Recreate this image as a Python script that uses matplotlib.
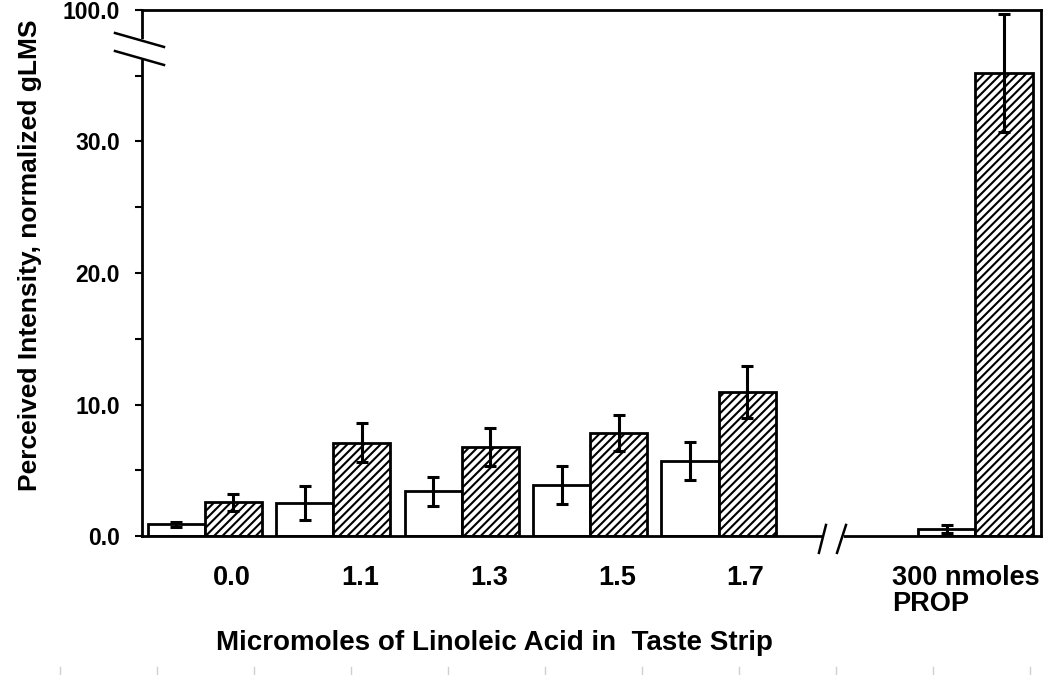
"""
Bar chart: perceived intensity of linoleic acid taste strips (normalized gLMS),
two groups per concentration, with broken y and x axes.
"""

import matplotlib.pyplot as plt
import numpy as np
from matplotlib.ticker import FixedLocator

plt.rcParams["font.family"] = ["Liberation Sans", "DejaVu Sans"]
plt.rcParams["font.weight"] = "bold"
plt.rcParams["hatch.linewidth"] = 1.5
plt.rcParams["hatch.color"] = "black"

# values
group_labels = ["0.0", "1.1", "1.3", "1.5", "1.7", "300 nmoles\nPROP"]
group_pos = [0, 1, 2, 3, 4, 6]
plain_means = [0.9, 2.5, 3.4, 3.85, 5.7, 0.5]
plain_err = [0.2, 1.3, 1.1, 1.45, 1.45, 0.3]
hatched_means = [2.55, 7.1, 6.75, 7.85, 10.95, 35.2]
hatched_err = [0.65, 1.5, 1.45, 1.35, 2.0, 4.5]
y_ticks = [0, 10, 20, 30, 40]
y_tick_labels = ["0.0", "10.0", "20.0", "30.0", "100.0"]
y_minor = [5, 15, 25, 35]

WIDTH = 0.445
LW = 2.0

fig = plt.figure(figsize=(10.5, 6.75), dpi=100)
ax = fig.add_axes([0.1352, 0.2059, 0.8562, 0.7793])

x = np.array(group_pos, dtype=float)
ax.bar(x - WIDTH / 2, plain_means, WIDTH, color="white", edgecolor="black",
       linewidth=LW, zorder=2)
ax.bar(x + WIDTH / 2, hatched_means, WIDTH, color="white", edgecolor="black",
       hatch="////", linewidth=LW, zorder=2)

err_style = dict(fmt="none", ecolor="black", elinewidth=2.2, capsize=4,
                 capthick=2.2, zorder=3)
ax.errorbar(x - WIDTH / 2, plain_means, yerr=plain_err, **err_style)
ax.errorbar(x + WIDTH / 2, hatched_means, yerr=hatched_err, **err_style)

ax.set_xlim(-0.49, 6.51)
ax.set_ylim(0, 40)

for side in ["left", "right", "top", "bottom"]:
    ax.spines[side].set_linewidth(LW)

ax.yaxis.set_major_locator(FixedLocator(y_ticks))
ax.yaxis.set_minor_locator(FixedLocator(y_minor))
ax.set_yticklabels(y_tick_labels)
ax.tick_params(axis="y", which="both", direction="out", length=5, width=1.5,
               labelsize=16.5, pad=11)
ax.set_xticks([])

# category labels sit a little right of the bar pairs
xt = ax.get_xaxis_transform()
for pos, lab in zip(group_pos, group_labels):
    if "\n" in lab:
        ax.text(pos - 0.65, -0.055, lab, transform=xt, ha="left", va="top",
                fontsize=19.5, linespacing=1.0)
    else:
        ax.text(pos + 0.21, -0.055, lab, transform=xt, ha="center", va="top",
                fontsize=19.5)

fig.text(0.029, 0.622, "Perceived Intensity, normalized gLMS", rotation=90,
         ha="center", va="center", fontsize=19)
fig.text(0.4705, 0.047, "Micromoles of Linoleic Acid in  Taste Strip",
         ha="center", va="center", fontsize=20)

# y-axis break
yt = ax.get_yaxis_transform()
ax.plot([0, 0], [36.4, 37.55], transform=yt, color="white", lw=LW + 2,
        clip_on=False, zorder=5)
for y_hi, y_lo in [(38.25, 37.19), (36.88, 35.82)]:
    ax.plot([-0.030, 0.0245], [y_hi, y_lo], transform=yt, color="black",
            lw=1.8, clip_on=False, zorder=6)

# x-axis break
ax.plot([4.83, 4.95], [0, 0], transform=xt, color="white", lw=LW + 2,
        clip_on=False, zorder=5)
for x_top, x_bot in [(4.836, 4.781), (4.992, 4.922)]:
    ax.plot([x_top, x_bot], [0.021, -0.032], transform=xt, color="black",
            lw=1.8, clip_on=False, zorder=6)

# faint ruler marks along the bottom edge of the page
for fx in np.arange(60, 1050, 97) / 1050:
    fig.add_artist(plt.Line2D([fx, fx], [0, 0.012], color="#d0d0d0", lw=1))

fig.savefig("out.png", dpi=100)
